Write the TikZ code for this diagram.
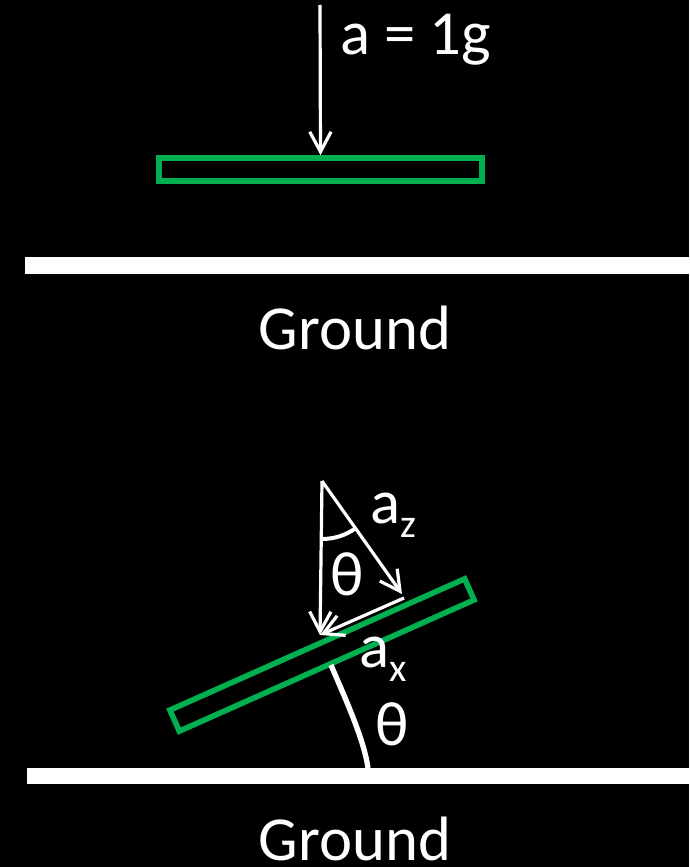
\documentclass[tikz,border=0pt]{standalone}
\usepackage{fontspec}
\setmainfont{Carlito}
\usetikzlibrary{arrows.meta}
\definecolor{plate}{HTML}{00B050}
\newcommand{\lowsub}[1]{\raisebox{-11pt}{\fontsize{30}{30}\selectfont #1}}

\begin{document}
\begin{tikzpicture}[x=0.75pt,y=-0.75pt,
  font=\fontsize{47}{50}\selectfont,
  plank/.style={draw=plate,line width=4.2pt,minimum width=242pt,minimum height=17.3pt,inner sep=0pt},
  vec/.style={white,line width=2.4pt,-{Straight Barb[length=15pt,width=16pt,line width=2.4pt]}},
  lbl/.style={text=white,inner sep=0pt}]
  \fill[black] (0,0) rectangle (689,867);
  \useasboundingbox (0,0) rectangle (689,867);

  % Top: plate lying flat, all of g along the normal.
  \node[plank] (flat) at (320.5,169.5) {};
  \coordinate (g0) at (320,5);
  \draw[vec] (g0) -- (flat.north);
  \node[lbl,anchor=base west] (gl) at (340,55) {a = 1g};
  \fill[white] (25,257) rectangle (689,274);
  \node[lbl,anchor=base] (ground1) at (355,349) {Ground};

  % Bottom: plate tilted by theta, g split into a_z and a_x.
  \node[plank,rotate=24] (tilted) at (322,655) {};
  \coordinate (apex) at (322,481);
  \coordinate (tip) at (320,635);
  \coordinate (zend) at (402,594);
  \coordinate (xstart) at (404,598);
  \draw[vec] (apex) -- (tip);
  \draw[vec] (apex) -- (zend);
  \draw[vec] (xstart) -- (tip);
  \draw[white,line width=3pt] (apex) ++(0,58) arc[start angle=90,end angle=55,radius=58];
  \node[lbl] (th1) at (347,574) {θ};
  \node[lbl,anchor=base west] (az) at (370,523) {a\lowsub{z}};
  \node[lbl,anchor=base west] (ax) at (359,667) {a\lowsub{x}};
  \draw[white,line width=4pt] (331,665) .. controls (343.6,695) and (363.8,738) .. (368,768);
  \node[lbl] (th2) at (392,724) {θ};
  \fill[white] (27,768) rectangle (689,784);
  \node[lbl,anchor=base] (ground2) at (355,860) {Ground};
\end{tikzpicture}
\end{document}
